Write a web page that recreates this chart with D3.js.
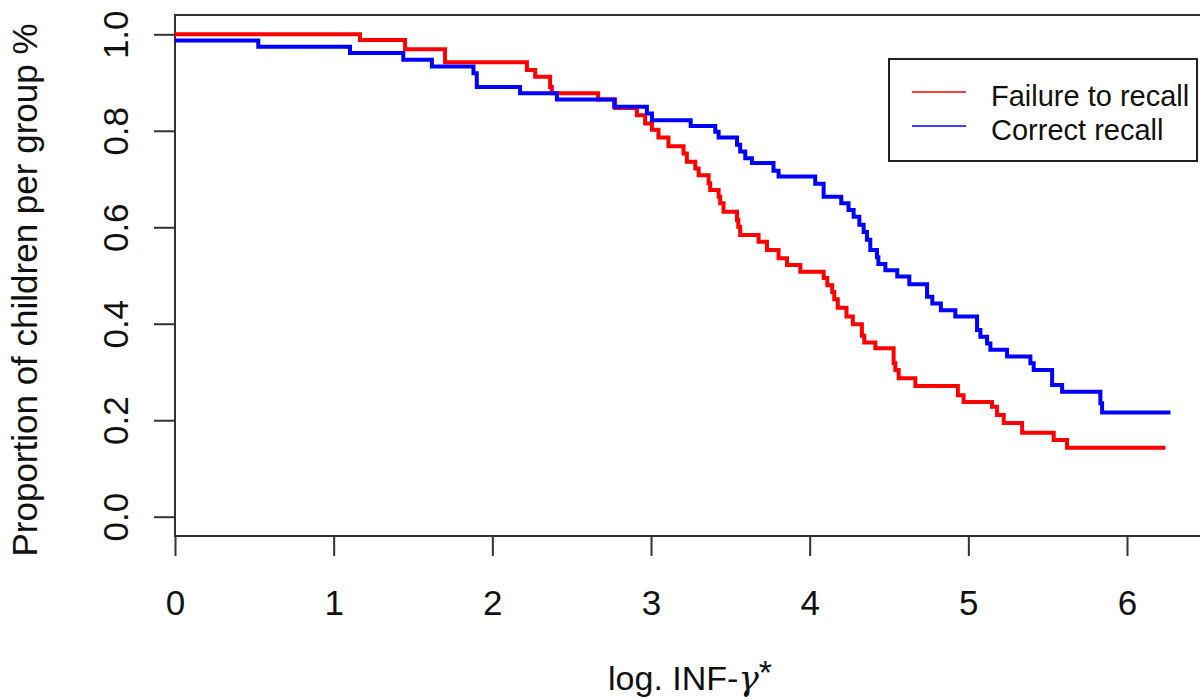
<!DOCTYPE html>
<html>
<head>
<meta charset="utf-8">
<script src="https://cdn.jsdelivr.net/npm/d3@7"></script>
<style>
    body { margin: 0; background: #fff; }
    text { font-family: "Liberation Sans", Arial, sans-serif; fill: #111; }
</style>
</head>
<body>
<svg id="km"></svg>
<script>
/* step times (log INF-gamma) and proportion remaining after each step */
const failTimes = [0, 1.166, 1.450, 1.702, 2.218, 2.270, 2.364, 2.375, 2.667, 2.774, 2.911, 2.963,
    3.006, 3.047, 3.110, 3.205, 3.226, 3.279, 3.300, 3.363, 3.373, 3.426, 3.436, 3.457,
    3.542, 3.550, 3.562, 3.678, 3.731, 3.804, 3.857, 3.941, 4.088, 4.111, 4.142, 4.155,
    4.177, 4.232, 4.272, 4.329, 4.344, 4.414, 4.529, 4.540, 4.561, 4.666, 4.934, 4.970,
    5.149, 5.181, 5.223, 5.339, 5.538, 5.622, 6.242];
const failSurv = [1.000, 0.988, 0.969, 0.942, 0.926, 0.912, 0.891, 0.878, 0.865, 0.847, 0.832, 0.815,
    0.802, 0.786, 0.768, 0.753, 0.736, 0.722, 0.708, 0.691, 0.677, 0.663, 0.650, 0.632,
    0.615, 0.601, 0.584, 0.570, 0.553, 0.536, 0.522, 0.508, 0.495, 0.480, 0.466, 0.451,
    0.433, 0.415, 0.399, 0.375, 0.361, 0.349, 0.318, 0.304, 0.287, 0.271, 0.252, 0.238,
    0.228, 0.211, 0.194, 0.174, 0.159, 0.143, 0.143];

const corrTimes = [0, 0.525, 1.103, 1.439, 1.619, 1.881, 1.902, 2.175, 2.407, 2.768, 2.974, 3.006,
    3.250, 3.405, 3.426, 3.542, 3.562, 3.594, 3.636, 3.772, 3.804, 4.035, 4.088, 4.199,
    4.245, 4.277, 4.313, 4.340, 4.361, 4.382, 4.424, 4.433, 4.477, 4.552, 4.628, 4.740,
    4.773, 4.827, 4.918, 5.055, 5.076, 5.118, 5.139, 5.244, 5.391, 5.412, 5.528, 5.591,
    5.832, 5.843, 6.274];
const corrSurv = [0.987, 0.974, 0.961, 0.947, 0.933, 0.919, 0.891, 0.878, 0.865, 0.850, 0.836, 0.822,
    0.810, 0.798, 0.786, 0.771, 0.757, 0.743, 0.733, 0.717, 0.705, 0.690, 0.663, 0.650,
    0.636, 0.622, 0.605, 0.590, 0.574, 0.553, 0.538, 0.524, 0.511, 0.498, 0.482, 0.456,
    0.442, 0.428, 0.415, 0.387, 0.373, 0.359, 0.346, 0.332, 0.318, 0.304, 0.273, 0.259,
    0.235, 0.216, 0.216];

const xTicks = [0, 1, 2, 3, 4, 5, 6];
const yTicks = [0, 0.2, 0.4, 0.6, 0.8, 1.0];
const legendLabels = ['Failure to recall', 'Correct recall'];
const colors = ['#ff0000', '#0000ff'];

draw_chart();

function draw_chart() {
    const svg = d3.select('#km')
        .attr('width', 1200)
        .attr('height', 699);

    svg.append('rect')
        .attr('width', 1200)
        .attr('height', 699)
        .attr('fill', '#fff');

    /* plot region */
    const left = 175, right = 1200, top = 15, bottom = 536;

    const x = d3.scaleLinear()
        .domain([0, 6.46])
        .range([left, right]);

    const y = d3.scaleLinear()
        .domain([-0.04, 1.04])
        .range([bottom, top]);

    /* x axis */
    const xAxis = svg.append('g')
        .attr('transform', 'translate(0,' + bottom + ')')
        .call(d3.axisBottom(x).tickValues(xTicks).tickFormat(d3.format('d')).tickSize(20).tickPadding(34));
    xAxis.select('.domain').remove();
    xAxis.selectAll('line').attr('stroke', '#333').attr('stroke-width', 2);
    xAxis.selectAll('text').attr('font-size', 35).attr('fill', '#111');

    /* y axis, labels turned like R's default */
    const yAxis = svg.append('g')
        .attr('transform', 'translate(' + left + ',0)')
        .call(d3.axisLeft(y).tickValues(yTicks).tickFormat(d3.format('.1f')).tickSize(21));
    yAxis.select('.domain').remove();
    yAxis.selectAll('line').attr('stroke', '#333').attr('stroke-width', 2);
    yAxis.selectAll('text')
        .attr('x', 0)
        .attr('dy', 0)
        .attr('text-anchor', 'middle')
        .attr('font-size', 35)
        .attr('fill', '#111')
        .attr('transform', 'translate(-47,0) rotate(-90)');

    /* box */
    svg.append('rect')
        .attr('x', left)
        .attr('y', top)
        .attr('width', right - left + 2)
        .attr('height', bottom - top)
        .attr('fill', 'none')
        .attr('stroke', '#333')
        .attr('stroke-width', 2);

    /* axis titles */
    svg.append('text')
        .attr('transform', 'translate(37,290) rotate(-90)')
        .attr('text-anchor', 'middle')
        .attr('font-size', 35)
        .text('Proportion of children per group %');

    const xt = svg.append('text')
        .attr('x', 690)
        .attr('y', 690)
        .attr('text-anchor', 'middle')
        .attr('font-size', 34);
    xt.append('tspan').text('log. INF-');
    xt.append('tspan').attr('font-family', 'DejaVu Serif, serif').attr('font-style', 'italic').text('γ');
    xt.append('tspan').attr('dy', -6).text('*');

    /* survival steps */
    const series = [
        failTimes.map((t, i) => ({t: t, s: failSurv[i]})),
        corrTimes.map((t, i) => ({t: t, s: corrSurv[i]}))
    ];

    const line = d3.line()
        .curve(d3.curveStepAfter)
        .x(d => x(d.t))
        .y(d => y(d.s));

    svg.selectAll('.km')
        .data(series)
        .enter().append('path')
        .attr('class', 'km')
        .attr('d', line)
        .attr('fill', 'none')
        .attr('stroke', (d, i) => colors[i])
        .attr('stroke-width', 4);

    /* legend */
    const lg = svg.append('g');
    lg.append('rect')
        .attr('x', 889)
        .attr('y', 59)
        .attr('width', 308)
        .attr('height', 102)
        .attr('fill', '#fff')
        .attr('stroke', '#222')
        .attr('stroke-width', 2);

    const item = lg.selectAll('.item')
        .data(legendLabels)
        .enter().append('g')
        .attr('transform', (d, i) => 'translate(0,' + (92 + i * 34) + ')');

    item.append('line')
        .attr('x1', 912)
        .attr('x2', 966)
        .attr('stroke', (d, i) => colors[i])
        .attr('stroke-width', 1.5);

    item.append('text')
        .attr('x', 991)
        .attr('y', 14)
        .attr('font-size', 29)
        .text(d => d);
}
</script>
</body>
</html>
